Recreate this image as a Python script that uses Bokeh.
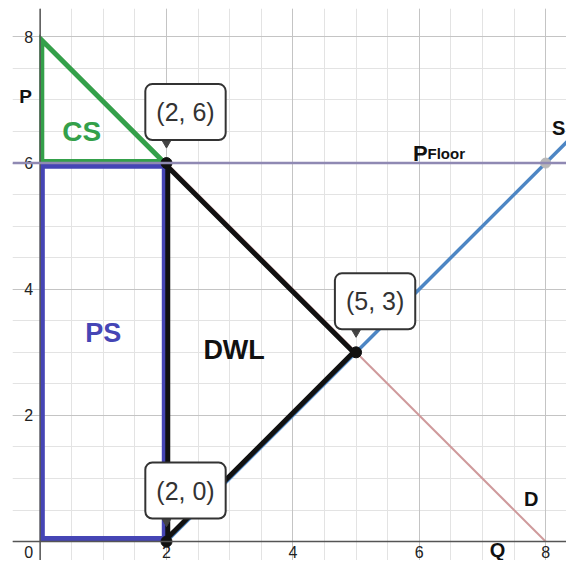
from bokeh.plotting import figure
from bokeh.models import Span, Label, Grid, FixedTicker
from bokeh.core.properties import value
from bokeh.embed import file_html
from bokeh.resources import INLINE
import numpy as np

# ---- data ----
demand_q = [0, 8]
demand_p = [8, 0]
supply_q = [2, 8.5]
supply_p = [0, 6.5]
floor_price = 6
cs_q = [0, 0, 2]
cs_p = [8, 6, 6]
ps_q = [0, 2]
ps_p = [0, 6]
dwl_q = [2, 5, 2]
dwl_p = [6, 3, 0]
pt_q = [2, 5, 2]
pt_p = [6, 3, 0]
pt_labels = ["(2, 6)", "(5, 3)", "(2, 0)"]
floor_pt_q = [8]
floor_pt_p = [6]
x_ticks = [2, 4, 6, 8]
y_ticks = [2, 4, 6, 8]

FONT = "Liberation Sans"
X0, X1 = -0.437, 8.33
Y0, Y1 = -0.30, 8.45

p = figure(width=566, height=560, x_range=(X0, X1), y_range=(Y0, Y1),
           output_backend="svg", toolbar_location=None,
           min_border_left=12, min_border_right=0, min_border_top=8, min_border_bottom=0)
p.xaxis.visible = False
p.yaxis.visible = False
p.xgrid.visible = False
p.ygrid.visible = False
p.outline_line_color = None
p.background_fill_color = "white"

minor = list(np.arange(-0.5, 9.0, 0.5))
for dim in (0, 1):
    p.add_layout(Grid(dimension=dim, ticker=FixedTicker(ticks=minor),
                      grid_line_color="#e3e3e3", grid_line_width=1))
major = [0, 2, 4, 6, 8]
for dim in (0, 1):
    p.add_layout(Grid(dimension=dim, ticker=FixedTicker(ticks=major),
                      grid_line_color="#c4c4c4", grid_line_width=1))

p.add_layout(Span(location=0, dimension="width", line_color="#555555", line_width=1.5))
p.add_layout(Span(location=0, dimension="height", line_color="#555555", line_width=1.5))

# tick labels
p.text(x=[-0.11] * len(y_ticks), y=y_ticks, text=[str(t) for t in y_ticks],
       text_font=value(FONT), text_font_size="16px", text_color="#222222",
       text_align="right", text_baseline="middle")
p.text(x=x_ticks, y=[-0.17] * len(x_ticks), text=[str(t) for t in x_ticks],
       text_font=value(FONT), text_font_size="16px", text_color="#222222",
       text_align="center", text_baseline="middle")
p.text(x=[-0.11], y=[-0.17], text=["0"], text_font=value(FONT), text_font_size="16px",
       text_color="#222222", text_align="right", text_baseline="middle")

# curves
p.line(demand_q, demand_p, line_color="#cf9a9c", line_width=2)
p.add_layout(Span(location=floor_price, dimension="width", line_color="#8f89b3", line_width=2.5))
p.line(supply_q, supply_p, line_color="#4d86c4", line_width=3.5)


def shrink(qs, ps, f):
    cq, cp = np.mean(qs), np.mean(ps)
    return [cq + (q - cq) * (1 - f) for q in qs], [cp + (v - cp) * (1 - f) for v in ps]


cq, cp = shrink(cs_q, cs_p, 0.04)
p.patch(cq + [cq[0]], cp + [cp[0]], fill_color=None, line_color="#34a04a", line_width=5,
        line_join="miter")

ins_x, ins_y = 0.035, 0.05
rx = [ps_q[0] + ins_x, ps_q[1] - ins_x]
ry = [ps_p[0] + ins_y, ps_p[1] - ins_y]
p.patch([rx[0], rx[1], rx[1], rx[0], rx[0]], [ry[0], ry[0], ry[1], ry[1], ry[0]],
        fill_color=None, line_color="#4545b5", line_width=5, line_join="miter")

dq, dp = shrink(dwl_q, dwl_p, 0.02)
p.patch(dq + [dq[0]], dp + [dp[0]], fill_color=None, line_color="#111111", line_width=5,
        line_join="miter")

# points
p.scatter(floor_pt_q, floor_pt_p, size=10, color="#b8b8b8")
p.scatter(pt_q, pt_p, size=11, color="#111111")
p.scatter(pt_q, [v + 0.32 for v in pt_p], marker="inverted_triangle", size=9, color="#444444")

for q, v, t in zip(pt_q, pt_p, pt_labels):
    p.add_layout(Label(x=q, y=v, x_offset=19, y_offset=23, text=t,
                       text_font=FONT, text_font_size="25px", text_color="#333333",
                       text_align="center", text_baseline="bottom",
                       background_fill_color="white", border_line_color="#333333",
                       border_line_width=2, padding=dict(left=11, right=11, top=14, bottom=14),
                       border_radius=7))

# text annotations
def lbl(x, y, t, size, color="#111111", align="center", baseline="middle"):
    p.text(x=[x], y=[y], text=[t], text_font=value(FONT), text_font_size=size,
           text_font_style="bold", text_color=color, text_align=align, text_baseline=baseline)

lbl(-0.23, 7.06, "P", "19px")
lbl(0.66, 6.5, "CS", "28px", color="#34a04a")
lbl(1.0, 3.3, "PS", "27px", color="#4545b5")
lbl(3.07, 3.03, "DWL", "27px")
lbl(5.9, 6.15, "P", "22px", align="left", baseline="alphabetic")
lbl(6.13, 6.15, "Floor", "15px", align="left", baseline="alphabetic")
lbl(8.31, 6.56, "S", "20px", align="right")
lbl(7.77, 0.67, "D", "20px")
lbl(7.24, -0.3, "Q", "20px", baseline="bottom")

open("out.html", "w").write(file_html(p, INLINE))
